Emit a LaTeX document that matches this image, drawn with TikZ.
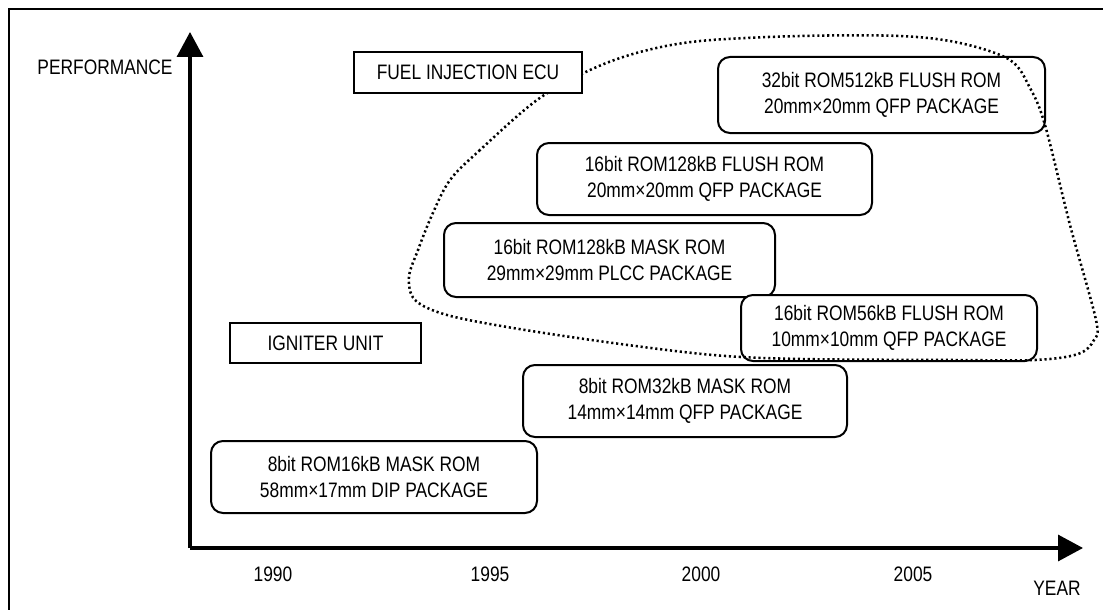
\documentclass[tikz,border=0pt]{standalone}
\usepackage{fontspec}
\setmainfont{Liberation Sans}[FakeStretch=0.83]
\usetikzlibrary{arrows.meta}
\tikzset{
  rbox/.style={draw, line width=1.5pt, rounded corners=9pt, fill=white, align=center, inner sep=0pt},
  sbox/.style={draw, line width=1pt, fill=white, align=center, inner sep=0pt},
  axis/.style={line width=2.5pt, -{Triangle[length=18.75pt,width=19.5pt]}},
  lbl/.style={inner sep=0pt},
  loop/.style={line width=1.9pt, dash pattern=on 1.6pt off 2.1pt}
}
\begin{document}
\begin{tikzpicture}[x=0.75pt,y=-0.75pt]
\fontsize{15.7}{19.3}\selectfont
\useasboundingbox (0,0) rectangle (1103,610);
% frame
\draw[line width=1.1pt] (9,640) -- (9,9) -- (1130,9);
% axes
\coordinate (o) at (190,548);
\coordinate (ytip) at (190,32);
\coordinate (xtip) at (1083,548);
\draw[axis] (o) -- (ytip);
\draw[axis] (o) -- (xtip);
\node[lbl] (perf) at (105,67.5) {PERFORMANCE};
\node[lbl] (year) at (1057,588) {YEAR};
\node[lbl] (y90) at (273,574) {1990};
\node[lbl] (y95) at (490,574) {1995};
\node[lbl] (y00) at (701,574) {2000};
\node[lbl] (y05) at (913,574) {2005};
% boxes
\node[rbox, minimum width=244.5pt, minimum height=54pt] (b816) at (374,477) {8bit ROM16kB MASK ROM\\58mm×17mm DIP PACKAGE};
\node[rbox, minimum width=243pt, minimum height=54pt] (b832) at (685,401) {8bit ROM32kB MASK ROM\\14mm×14mm QFP PACKAGE};
\node[rbox, minimum width=248.25pt, minimum height=55.5pt] (b16m) at (609.5,260) {16bit ROM128kB MASK ROM\\29mm×29mm PLCC PACKAGE};
\node[rbox, minimum width=222pt, minimum height=49.5pt] (b56) at (889,328) {16bit ROM56kB FLUSH ROM\\10mm×10mm QFP PACKAGE};
\node[rbox, minimum width=251.25pt, minimum height=54pt] (b16f) at (704.5,179) {16bit ROM128kB FLUSH ROM\\20mm×20mm QFP PACKAGE};
\node[rbox, minimum width=245.25pt, minimum height=57pt] (b32) at (881.5,95) {32bit ROM512kB FLUSH ROM\\20mm×20mm QFP PACKAGE};
\node[sbox, minimum width=143.25pt, minimum height=30pt] (ign) at (325.5,343) {IGNITER UNIT};
% dotted loop
\draw[loop] plot[smooth cycle, tension=0.55] coordinates {
 (537,100) (480,150) (450,180) (432,215) (418,250) (409,277) (415,300) (447,315) (513,328)
 (613,343) (713,355) (800,359) (950,360) (1035,360) (1078,354) (1094,340) (1096,320)
 (1070,225) (1045,125) (1030,88) (1010,60) (960,43) (900,36) (800,36) (700,41)
 (640,52) (590,70)};
\node[sbox, minimum width=171pt, minimum height=30.75pt] (fuel) at (468,72.5) {FUEL INJECTION ECU};
\end{tikzpicture}
\end{document}
